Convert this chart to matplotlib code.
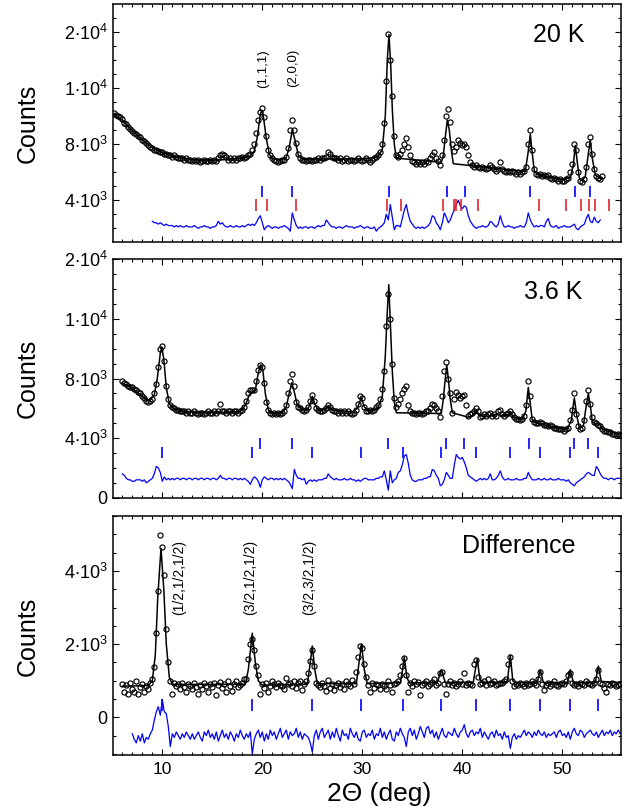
import numpy as np
import matplotlib
matplotlib.use('Agg')
import matplotlib.pyplot as plt
from matplotlib.ticker import MultipleLocator, FixedLocator, FixedFormatter

plt.rcParams['font.family'] = ['Liberation Sans', 'DejaVu Sans']
plt.rcParams['mathtext.fontset'] = 'custom'
plt.rcParams['mathtext.rm'] = 'Liberation Sans'
plt.rcParams['mathtext.it'] = 'Liberation Sans:italic'

# scan step (deg 2theta)
step = 0.2

# ---------------- 20 K  (counts / 100), scan from 5.2 deg
obs_20K_start = 5.2
obs_20K = [
    102, 101, 100, 99, 98, 95, 94, 92, 91, 89,
    88, 87, 86, 85, 83, 82, 81, 79, 78, 77,
    76, 76, 75, 74, 74, 73, 73, 72, 72, 71,
    72, 71, 70, 70, 70, 69, 70, 69, 69, 68,
    69, 68, 69, 67, 68, 69, 68, 68, 69, 68,
    69, 68, 70, 72, 73, 72, 71, 69, 70, 69,
    70, 69, 70, 70, 71, 70, 71, 72, 73, 76,
    80, 88, 97, 103, 106, 99, 86, 76, 72, 70,
    69, 68, 67, 68, 69, 69, 71, 77, 90, 97,
    90, 81, 73, 70, 69, 69, 68, 69, 69, 68,
    69, 69, 70, 69, 70, 70, 71, 74, 73, 71,
    70, 70, 69, 70, 68, 69, 70, 68, 69, 69,
    68, 69, 70, 69, 68, 69, 70, 69, 67, 69,
    70, 71, 72, 74, 80, 95, 125, 158, 140, 114,
    86, 72, 71, 73, 76, 80, 84, 78, 72, 68,
    67, 66, 67, 66, 67, 66, 68, 67, 70, 72,
    74, 70, 68, 65, 72, 83, 100, 105, 96, 80,
    75, 78, 83, 81, 79, 80, 78, 72, 67, 65,
    64, 65, 64, 63, 64, 63, 62, 63, 65, 64,
    62, 61, 62, 67, 62, 61, 60, 61, 60, 61,
    60, 59, 60, 59, 60, 61, 64, 80, 90, 76,
    62, 59, 58, 59, 57, 58, 57, 58, 56, 55,
    56, 55, 54, 55, 54, 54, 55, 56, 60, 66,
    80, 76, 60, 54, 53, 55, 64, 80, 85, 73,
    62, 57, 56, 55, 57,
]
fit_20K = [
    (5.2, 101.5), (6.0, 97), (7.0, 89.5), (8.0, 83), (9.0, 77.5), (10.0, 74),
    (11.0, 71.5), (12.0, 70), (13.0, 69), (14.0, 68.5), (16.0, 68.8), (18.0, 70),
    (18.8, 71.5), (19.2, 75), (19.5, 85), (19.8, 101), (19.95, 104), (20.1, 100),
    (20.4, 84), (20.7, 73), (21.0, 69.5), (22.0, 69), (22.4, 70.5), (22.7, 78),
    (23.0, 90), (23.3, 82), (23.6, 72), (24.0, 69.3), (26.0, 69.5), (28.0, 69.3),
    (30.0, 69.5), (31.5, 70.5), (32.0, 76), (32.3, 100), (32.5, 140), (32.67, 158),
    (32.85, 135), (33.0, 105), (33.2, 80), (33.4, 70), (37.9, 67), (38.1, 72),
    (38.3, 85), (38.5, 97), (38.7, 90), (38.9, 76), (39.1, 66), (46.3, 60.5),
    (46.6, 75), (46.8, 87), (47.0, 73), (47.2, 61), (47.5, 58.5), (48.5, 56.5),
    (50.0, 55), (50.8, 56), (51.1, 65), (51.3, 79), (51.5, 67), (51.7, 56),
    (52.0, 54), (52.3, 57), (52.6, 73), (52.8, 83), (53.0, 70), (53.3, 58), (53.9, 55),
]
diff_20K_start = 9.0
diff_20K = [
    25, 24, 24, 23, 24, 23, 22, 23, 22, 22,
    22, 21, 22, 21, 22, 21, 21, 22, 21, 21,
    21, 22, 21, 20, 21, 21, 22, 21, 21, 20,
    21, 21, 22, 25, 23, 24, 22, 21, 21, 22,
    21, 21, 22, 21, 21, 22, 21, 22, 23, 22,
    23, 22, 24, 27, 29, 24, 19, 21, 22, 21,
    20, 21, 21, 20, 21, 21, 22, 21, 20, 18,
    31, 26, 22, 20, 21, 20, 21, 21, 20, 21,
    21, 20, 21, 22, 21, 22, 22, 26, 24, 22,
    21, 21, 20, 21, 21, 20, 21, 22, 21, 21,
    21, 20, 21, 21, 22, 21, 20, 21, 21, 20,
    20, 21, 18, 20, 21, 22, 24, 30, 26, 37,
    28, 19, 22, 22, 21, 27, 33, 37, 30, 25,
    23, 21, 20, 21, 20, 21, 20, 21, 22, 24,
    29, 28, 24, 22, 19, 24, 31, 28, 24, 26,
    30, 33, 37, 40, 36, 34, 36, 35, 29, 25,
    23, 21, 20, 21, 21, 22, 21, 21, 22, 25,
    24, 22, 21, 23, 29, 24, 21, 21, 22, 21,
    21, 20, 21, 21, 22, 21, 21, 24, 31, 26,
    23, 21, 22, 21, 22, 22, 21, 25, 27, 22,
    21, 21, 22, 20, 21, 21, 22, 21, 21, 21,
    22, 23, 20, 19, 21, 22, 23, 27, 30, 25,
    24, 28, 25, 24, 26,
]
nuc_20K = [19.94, 23.0, 32.7, 38.5, 40.3, 46.8, 51.3, 52.8]
imp_20K = [19.35, 20.5, 23.4, 32.5, 33.9, 38.1, 39.2, 39.4, 39.9, 41.6,
           47.7, 50.4, 51.9, 52.7, 53.3, 54.7]

# ---------------- 3.6 K  (counts / 100), scan from 6.0 deg
obs_36K_start = 6.0
obs_36K = [
    78, 77, 76, 75, 74, 74, 73, 72, 71, 70,
    68, 67, 65, 64, 65, 66, 70, 76, 88, 100,
    102, 92, 75, 66, 62, 61, 60, 59, 59, 58,
    58, 58, 57, 58, 57, 57, 58, 57, 56, 57,
    57, 56, 57, 58, 57, 57, 58, 57, 58, 63,
    58, 58, 57, 58, 58, 57, 58, 58, 57, 58,
    59, 61, 65, 70, 72, 72, 72, 78, 86, 89,
    88, 77, 64, 59, 57, 56, 57, 56, 57, 56,
    57, 58, 62, 70, 78, 83, 75, 64, 61, 60,
    59, 58, 59, 61, 65, 69, 65, 60, 59, 58,
    58, 59, 60, 62, 61, 59, 58, 58, 57, 58,
    57, 58, 57, 58, 57, 56, 57, 59, 63, 68,
    67, 61, 58, 58, 59, 58, 59, 61, 62, 66,
    73, 85, 115, 137, 120, 90, 67, 61, 63, 66,
    70, 73, 75, 62, 58, 57, 57, 56, 57, 57,
    56, 57, 58, 58, 60, 63, 62, 60, 58, 54,
    68, 85, 91, 80, 70, 57, 66, 71, 69, 67,
    68, 69, 62, 55, 56, 57, 58, 60, 58, 54,
    55, 56, 55, 56, 57, 55, 56, 55, 58, 59,
    56, 55, 56, 57, 58, 56, 54, 53, 53, 52,
    53, 55, 62, 78, 68, 53, 51, 50, 50, 51,
    50, 49, 49, 48, 49, 48, 47, 47, 46, 46,
    46, 45, 46, 47, 52, 59, 70, 56, 48, 46,
    47, 52, 65, 72, 63, 54, 51, 50, 49, 48,
    46, 45, 45, 44, 44, 43, 43, 42, 43, 42,
]
fit_36K = [
    (6.0, 77), (7.0, 73.5), (8.0, 68), (8.7, 65), (9.2, 69), (9.5, 80), (9.8, 97),
    (9.95, 101), (10.15, 93), (10.4, 74), (10.7, 63), (11.2, 59.5), (12.0, 58),
    (14.0, 57), (16.0, 57.3), (17.8, 57.8), (18.3, 62), (18.7, 69), (19.0, 71),
    (19.3, 72), (19.55, 82), (19.8, 89), (20.05, 86), (20.3, 70), (20.6, 59),
    (21.0, 56.5), (22.0, 57), (22.4, 61), (22.75, 72), (22.95, 77), (23.2, 71),
    (23.5, 62), (24.0, 59), (24.5, 59), (24.8, 63), (25.0, 68), (25.25, 63),
    (25.6, 58.5), (26.3, 59.5), (26.6, 61.5), (27.0, 59), (29.0, 57.5), (29.5, 60),
    (29.9, 67), (30.2, 61), (30.6, 58), (31.5, 59.5), (32.0, 68), (32.3, 95),
    (32.5, 125), (32.65, 143), (32.8, 118), (33.0, 85), (33.2, 64), (33.4, 57),
    (37.9, 56.5), (38.1, 66), (38.3, 80), (38.45, 89), (38.6, 80), (38.8, 66),
    (39.0, 57), (40.6, 54), (41.0, 55), (41.4, 59), (41.7, 55), (42.5, 54.5),
    (43.6, 56), (44.0, 55), (44.5, 55.5), (44.8, 57.5), (45.1, 54), (46.0, 52.5),
    (46.35, 58), (46.6, 74), (46.8, 63), (47.0, 52), (47.5, 50), (49.0, 47.5),
    (50.5, 46), (50.9, 52), (51.2, 67), (51.45, 55), (51.7, 47), (52.1, 48),
    (52.4, 62), (52.6, 70), (52.8, 62), (53.0, 51), (53.4, 49.5), (53.7, 49.5),
    (54.0, 46), (55.9, 42.5),
]
diff_36K_start = 6.0
diff_36K = [
    16, 15, 13, 12, 12, 11, 11, 12, 12, 12,
    11, 12, 10, 11, 12, 13, 16, 21, 20, 17,
    11, 14, 12, 13, 12, 13, 12, 13, 13, 12,
    13, 13, 12, 13, 13, 12, 13, 13, 12, 13,
    13, 12, 13, 13, 12, 13, 13, 12, 13, 15,
    13, 13, 12, 13, 13, 12, 13, 13, 12, 13,
    12, 13, 12, 11, 9, 12, 14, 13, 11, 7,
    12, 14, 13, 12, 13, 13, 12, 13, 12, 13,
    12, 13, 12, 11, 9, 6, 19, 15, 13, 13,
    12, 13, 9, 11, 12, 11, 12, 11, 12, 12,
    12, 13, 13, 16, 14, 13, 12, 13, 12, 12,
    12, 13, 12, 12, 13, 12, 12, 11, 12, 11,
    12, 13, 13, 12, 12, 12, 12, 13, 13, 14,
    14, 18, 12, 5, 18, 10, 12, 13, 17, 18,
    22, 28, 29, 23, 15, 12, 11, 11, 12, 12,
    12, 13, 13, 14, 14, 19, 18, 15, 13, 8,
    9, 12, 17, 15, 13, 13, 22, 29, 27, 26,
    27, 24, 20, 15, 14, 13, 12, 11, 12, 13,
    12, 13, 12, 13, 16, 12, 12, 13, 15, 18,
    14, 12, 12, 13, 12, 12, 12, 13, 12, 12,
    12, 13, 13, 17, 14, 12, 12, 12, 13, 12,
    12, 13, 12, 12, 13, 12, 12, 12, 13, 12,
    12, 12, 11, 12, 10, 9, 8, 10, 11, 12,
    13, 14, 16, 17, 16, 15, 15, 21, 19, 16,
    14, 13, 13, 12, 13, 13, 12, 13, 13, 13,
]
nuc_36K = [19.8, 22.93, 32.6, 38.4, 40.2, 46.7, 51.2, 52.6]
mag_peaks = [9.93, 19.0, 25.0, 29.9, 34.1, 37.9, 41.4, 44.75, 47.8, 50.8, 53.6]

# ---------------- Difference 3.6 K - 20 K (counts), scan from 6.0 deg
obs_dif_start = 6.0
obs_dif = [
    900, 700, 880, 650, 930, 780, 700, 980, 640, 820,
    900, 700, 860, 780, 950, 1050, 1380, 2300, 3450, 4980,
    4650, 3900, 2400, 1500, 1000, 650, 950, 850, 900, 780,
    950, 820, 700, 900, 860, 780, 930, 820, 640, 880,
    780, 950, 860, 700, 900, 820, 950, 600, 880, 960,
    800, 900, 700, 980, 850, 720, 900, 1000, 830, 880,
    950, 1050, 1050, 1600, 2000, 2150, 1850, 1400, 1150, 650,
    900, 800, 950, 700, 850, 1000, 900, 820, 950, 880,
    850, 780, 1070, 900, 950, 850, 1000, 800, 950, 1000,
    750, 900, 1000, 1200, 1550, 1850, 1400, 950, 880, 820,
    940, 850, 720, 1020, 800, 900, 750, 880, 950, 820,
    900, 780, 1000, 900, 850, 1020, 900, 1250, 1650, 1950,
    1900, 1450, 1100, 880, 700, 950, 800, 900, 870, 780,
    920, 850, 780, 980, 880, 700, 900, 950, 1000, 1150,
    1400, 1620, 1150, 700, 950, 850, 1000, 900, 960, 620,
    880, 950, 1000, 850, 900, 960, 1050, 880, 950, 1200,
    1250, 900, 650, 900, 1000, 880, 950, 850, 900, 1000,
    900, 1200, 880, 950, 900, 880, 1450, 1560, 1100, 900,
    950, 1000, 880, 1050, 920, 950, 1000, 880, 900, 950,
    950, 1000, 1050, 1450, 1650, 1000, 850, 900, 880, 950,
    900, 850, 950, 880, 900, 1000, 950, 880, 1050, 1250,
    900, 750, 880, 950, 850, 900, 1000, 880, 850, 900,
    950, 900, 1000, 1150, 1200, 950, 880, 900, 850, 950,
    900, 880, 1000, 950, 900, 880, 950, 1050, 1300, 950,
    900, 800, 700, 900, 880, 950, 900, 850, 880, 900,
]
fit_dif = [
    (6.0, 850), (8.6, 870), (9.0, 1000), (9.3, 1700), (9.55, 3300), (9.87, 4620),
    (10.15, 3500), (10.4, 2000), (10.7, 1100), (11.0, 900), (18.3, 900), (18.6, 1300),
    (19.0, 2300), (19.3, 1500), (19.6, 1000), (20.0, 880), (24.5, 900), (24.75, 1400),
    (25.0, 1950), (25.25, 1300), (25.5, 920), (29.4, 920), (29.65, 1450), (29.92, 2000),
    (30.2, 1300), (30.5, 920), (33.8, 950), (34.0, 1250), (34.2, 1650), (34.45, 1100),
    (34.7, 940), (37.5, 950), (37.9, 1300), (38.3, 950), (41.1, 960), (41.3, 1300),
    (41.5, 1600), (41.75, 1050), (42.0, 950), (44.5, 960), (44.8, 1700), (45.05, 1000),
    (45.3, 950), (47.5, 950), (47.8, 1300), (48.1, 950), (50.5, 950), (50.8, 1300),
    (51.1, 950), (53.3, 950), (53.6, 1400), (53.9, 980), (55.9, 950),
]
diff_dif_start = 7.0
diff_dif = [
    -450, -600, -700, -500, -650, -450, -700, -550, -600, -450,
    -350, -80, 150, 290, 60, 480, 150, 100, -250, -800,
    -450, -550, -400, -500, -600, -450, -550, -400, -500, -600,
    -450, -600, -500, -400, -550, -650, -400, -500, -350, -550,
    -450, -600, -400, -650, -500, -350, -550, -450, -600, -400,
    -500, -650, -450, -550, -350, -500, -600, -450, -550, -400,
    -1000, -600, -450, -350, -550, -400, -650, -450, -600, -350,
    -500, -400, -600, -450, -300, -550, -450, -350, -600, -400,
    -500, -450, -300, -550, -400, -600, -450, -500, -550, -700,
    -950, -500, -350, -600, -400, -300, -550, -450, -350, -600,
    -400, -550, -300, -500, -650, -350, -500, -450, -600, -300,
    -450, -550, -400, -600, -650, -400, -350, -550, -450, -500,
    -350, -600, -450, -500, -300, -550, -400, -600, -450, -350,
    -600, -650, -400, -500, -300, -450, -550, -800, -400, -300,
    -500, -350, -600, -450, -250, -400, -550, -300, -250, -450,
    -350, -550, -400, -600, -450, -300, -500, -550, -400, -450,
    -500, -300, -450, -550, -400, -350, -200, -450, -550, -400,
    -350, -500, -400, -450, -300, -550, -400, -500, -600, -450,
    -400, -550, -350, -500, -450, -600, -400, -550, -500, -850,
    -550, -450, -600, -500, -550, -450, -350, -500, -400, -450,
    -550, -400, -500, -350, -450, -500, -400, -550, -450, -500,
    -450, -400, -550, -400, -350, -500, -450, -550, -400, -600,
    -400, -300, -450, -500, -350, -400, -550, -450, -400, -350,
    -450, -500, -400, -550, -450, -350, -500, -400, -450, -350,
    -500, -400, -450, -350, -450,
]


def grid(start, n):
    return np.round(start + step * np.arange(n), 2)


BLUE = '#0000ff'
RED = '#e3262b'
W, H = 637, 811
fig = plt.figure(figsize=(W / 100, H / 100), dpi=100)

left, width = 113.3 / W, 507.7 / W
ax1 = fig.add_axes([left, 1 - 241.7 / H, width, 237.7 / H])
ax2 = fig.add_axes([left, 1 - 497.7 / H, width, 238.4 / H])
ax3 = fig.add_axes([left, 1 - 755.0 / H, width, 239.3 / H])


def draw(ax, x0, obs, fit, d0, diff, scale):
    obs = np.array(obs) * scale
    diff = np.array(diff) * scale
    fit = np.array(fit)
    ax.plot(grid(x0, len(obs)), obs, 'o', ms=3.7, mfc='none', mec='black',
            mew=0.85, zorder=3)
    ax.plot(fit[:, 0], fit[:, 1] * scale, color='black', lw=1.1, zorder=4)
    ax.plot(grid(d0, len(diff)), diff, color=BLUE, lw=0.9, zorder=2)


def style(ax, ylim, yticks, ylabels, minor):
    ax.set_xlim(5.1, 55.87)
    ax.set_ylim(*ylim)
    ax.xaxis.set_major_locator(MultipleLocator(10))
    ax.xaxis.set_minor_locator(MultipleLocator(1))
    ax.yaxis.set_major_locator(FixedLocator(yticks))
    ax.yaxis.set_major_formatter(FixedFormatter(ylabels))
    ax.yaxis.set_minor_locator(MultipleLocator(minor))
    ax.tick_params(which='both', direction='in', top=True, right=True, width=0.8)
    ax.tick_params(which='major', length=4, labelsize=13, pad=4)
    ax.tick_params(which='minor', length=2)
    for s in ax.spines.values():
        s.set_linewidth(1.1)


k3, k4 = r'$\mathregular{%s{\cdot}10^{3}}$', r'$\mathregular{%s{\cdot}10^{4}}$'

# 20 K
draw(ax1, obs_20K_start, obs_20K, fit_20K, diff_20K_start, diff_20K, 100)
ax1.vlines(nuc_20K, 4200, 5000, color=BLUE, lw=1.2)
ax1.vlines(imp_20K, 3250, 4100, color=RED, lw=1.2)
style(ax1, (1050, 17970), [4000, 8000, 12000, 16000],
      [k3 % 4, k3 % 8, k4 % 1, k4 % 2], 1000)
ax1.tick_params(labelbottom=False)
ax1.text(49.6, 15770, '20 K', fontsize=18, ha='center', va='center')
ax1.text(20.07, 13400, '(1,1,1)', fontsize=9.5, rotation=90, ha='center', va='center')
ax1.text(23.1, 13400, '(2,0,0)', fontsize=9.5, rotation=90, ha='center', va='center')

# 3.6 K
draw(ax2, obs_36K_start, obs_36K, fit_36K, diff_36K_start, diff_36K, 100)
ax2.vlines(nuc_36K, 3270, 4030, color=BLUE, lw=1.2)
ax2.vlines(mag_peaks, 2640, 3420, color=BLUE, lw=1.2)
style(ax2, (0, 16000), [0, 4000, 8000, 12000, 16000],
      ['0', k3 % 4, k3 % 8, k4 % 1, k4 % 2], 1000)
ax2.tick_params(labelbottom=False)
ax2.text(49.1, 13830, '3.6 K', fontsize=18, ha='center', va='center')

# Difference
draw(ax3, obs_dif_start, obs_dif, fit_dif, diff_dif_start, diff_dif, 1)
ax3.vlines(mag_peaks, 170, 490, color=BLUE, lw=1.2)
style(ax3, (-1030, 5510), [0, 2000, 4000], ['0', k3 % 2, k3 % 4], 500)
ax3.tick_params(axis='x', labelsize=12.5, pad=5)
ax3.text(45.6, 4690, 'Difference', fontsize=18, ha='center', va='center')
for xp, lab in [(11.67, '(1/2,1/2,1/2)'), (18.77, '(3/2,1/2,1/2)'),
                (24.7, '(3/2,3/2,1/2)')]:
    ax3.text(xp, 3830, lab, fontsize=10, rotation=90, ha='center', va='center')

for yc in [123, 378.5, 636]:
    fig.text(28 / W, 1 - yc / H, 'Counts', fontsize=18, rotation=90,
             ha='center', va='center')
fig.text(379.5 / W, 1 - 800.5 / H, '2\u0398 (deg)', fontsize=19,
         ha='center', va='baseline')

fig.savefig('out.png', dpi=100)
